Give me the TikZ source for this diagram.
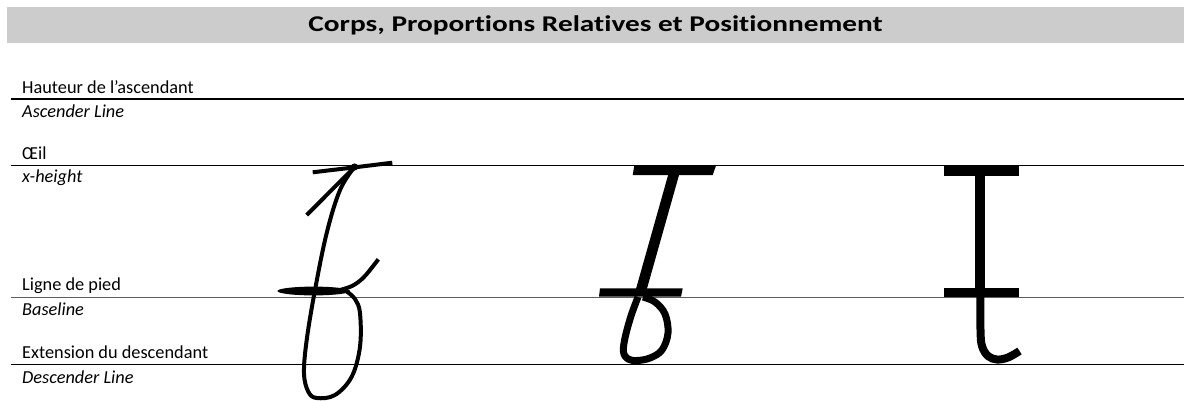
\documentclass[tikz,border=0pt]{standalone}
\usepackage{fontspec}
\setmainfont{Carlito}[Ligatures=NoCommon]
\usepackage{graphicx}
\definecolor{bargray}{RGB}{204,204,204}
\definecolor{baseRed}{RGB}{232,30,40}
\tikzset{
  lbl/.style={anchor=base west, inner sep=0pt, font=\fontsize{18.3}{22}\selectfont},
  lbli/.style={anchor=base west, inner sep=0pt, font=\fontsize{18.3}{22}\selectfont\itshape},
  guide/.style={line width=1.3pt, black},
  redguide/.style={line width=1.3pt, baseRed},
  pen/.style={line width=4pt, black, line cap=butt, line join=round},
  widepen/.style={line width=7pt, black, line cap=butt, line join=round},
  bar/.style={fill=black, draw=none}
}
\begin{document}
\begin{tikzpicture}[x=1pt,y=-1pt]
\useasboundingbox (0,0) rectangle (1184,400);
% title bar
\fill[bargray] (7,7) rectangle (1184,43);
\node (title) at (595.5,31) [anchor=base, inner sep=0pt, font=\fontsize{22.5}{26}\selectfont\bfseries]
  {\resizebox{574pt}{\height}{Corps, Proportions Relatives et Positionnement}};

% guide lines
\coordinate (asc0) at (11,99);   \coordinate (asc1) at (1184,99);
\coordinate (xh0) at (11,165.5); \coordinate (xh1) at (1184,165.5);
\coordinate (bl0) at (11,297.3); \coordinate (bl1) at (1184,297.3);
\coordinate (de0) at (11,364.7); \coordinate (de1) at (1184,364.7);
\draw[guide] (asc0) -- (asc1);
\draw[guide] (xh0) -- (xh1);
\draw[redguide] (bl0) -- (bl1);
\draw[guide] (de0) -- (de1);

% labels
\node[lbl]  (l1) at (22,93.3)  {Hauteur de l’ascendant};
\node[lbli] (l2) at (22,117.5) {Ascender Line};
\node[lbl]  (l3) at (22,159.5) {Œil};
\node[lbli] (l4) at (22,182)   {x-height};
\node[lbl]  (l5) at (22,290)   {Ligne de pied};
\node[lbli] (l6) at (22,315)   {Baseline};
\node[lbl]  (l7) at (22,358.3) {Extension du descendant};
\node[lbli] (l8) at (22,383)   {Descender Line};

% ---- letter 1 (cursive)
\draw[pen] (312.7,172.3) -- (355,167.3) -- (392.3,162.7);
\fill (354.5,167) circle (3.6);
\draw[pen] (306.7,215) -- (354.3,167.3);
\draw[pen] plot[smooth, tension=0.6] coordinates {
 (354.3,167.3) (340,190) (326.7,233) (315,290) (306.7,340) (304,373.3)
 (308.3,391.7) (316.7,398) (335,395) (351.7,376.7) (360,346.7) (360,313.3)
 (355,299) (346,291)};
\draw[pen] plot[smooth, tension=0.6] coordinates {
 (340,290) (352,286) (362,279) (370,270) (378.3,259.3)};
\fill (313.7,291) ellipse (36.3 and 4.4);

% ---- letter 2
\fill[bar] (634.3,165.7) -- (716,165.7) -- (712.7,175) -- (632.7,175) -- cycle;
\draw[line width=10.5pt, black] (675,170) -- (640,294);
\fill[bar] (600,288.3) -- (682.7,288.3) -- (681,296.7) -- (599,296.7) -- cycle;
\draw[widepen] plot[smooth, tension=0.6] coordinates {
 (638,297) (631,316) (625,338) (623.5,352) (628,359) (637,360.5)
 (650,358) (662,350) (668,333) (665,314) (655,302) (643,297)};

% ---- letter 3
\fill[bar] (944,165.7) rectangle (1019,175.7);
\fill[bar] (975,175) rectangle (985,297);
\fill[bar] (944,288.3) rectangle (1019,296.7);
\draw[line width=8pt, black] plot[smooth, tension=0.6] coordinates {
 (980.5,294) (980.5,330) (982,346) (988,356) (997,359.5) (1008,357.5) (1019.5,351)};
\end{tikzpicture}
\end{document}
